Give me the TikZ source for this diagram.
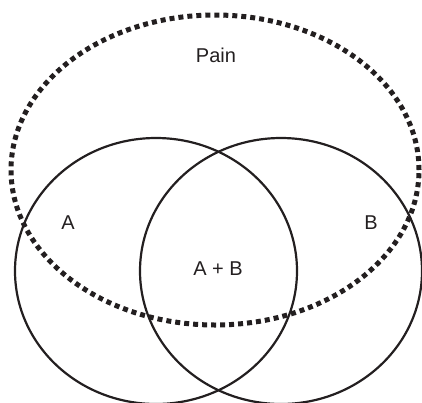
\documentclass[tikz,border=0pt]{standalone}
\usepackage{fontspec}
\setmainfont{Liberation Sans}
\usetikzlibrary{shapes.geometric}
\definecolor{ink}{HTML}{231F20}
\tikzset{
  setshape/.style={ellipse, draw=ink, line width=2.2pt, minimum width=282pt, minimum height=266pt, inner sep=0pt},
  painshape/.style={ellipse, draw=ink, line width=5pt, dash pattern=on 5pt off 4pt, minimum width=408pt, minimum height=310pt, inner sep=0pt},
  lab/.style={text=ink, font=\fontsize{20pt}{24pt}\selectfont, inner sep=0pt}
}
\begin{document}
\begin{tikzpicture}[x=1pt,y=-1pt]
\useasboundingbox (0,0) rectangle (422,402);
\node[setshape] (A) at (156,271) {};
\node[setshape] (B) at (281,271) {};
\node[painshape] (pain) at (215,170) {};
\node[lab] (painlab) at (216,55) {Pain};
\node[lab] (alab) at (68,223) {A};
\node[lab] (blab) at (371,223) {B};
\node[lab] (ablab) at (218,269) {A + B};
\end{tikzpicture}
\end{document}
